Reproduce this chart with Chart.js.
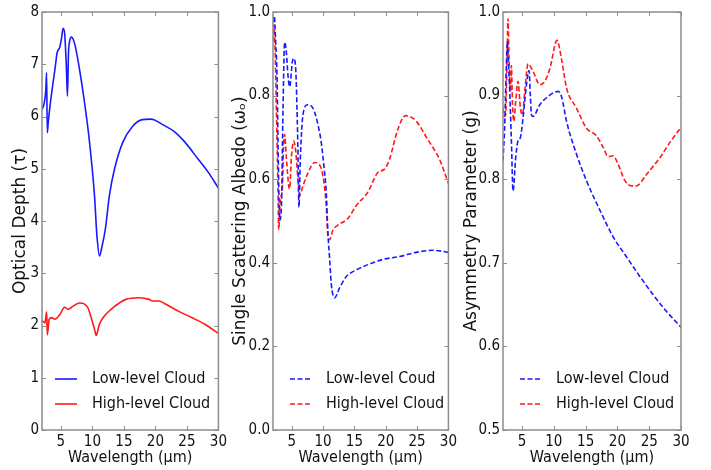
<!DOCTYPE html>
<html>
<head>
<meta charset="utf-8">
<script src="https://cdn.jsdelivr.net/npm/chart.js@4/dist/chart.umd.min.js"></script>
<style>
  html,body{margin:0;padding:0;background:#fff;}
  #wrap{position:relative;width:711px;height:470px;overflow:hidden;}
  .panel{position:absolute;top:0;}
</style>
</head>
<body>
<div id="wrap">
  <div class="panel" style="left:0px"><canvas id="c1" width="230" height="470"></canvas></div>
  <div class="panel" style="left:230px"><canvas id="c2" width="230" height="470"></canvas></div>
  <div class="panel" style="left:460px"><canvas id="c3" width="251" height="470"></canvas></div>
</div>
<script>
// ---------- DATA ----------
const xTicks = [5, 10, 15, 20, 25, 30];
const yTicksTau = [0, 1, 2, 3, 4, 5, 6, 7, 8];
const yTicksAlbedo = [0.0, 0.2, 0.4, 0.6, 0.8, 1.0];
const yTicksAsym = [0.5, 0.6, 0.7, 0.8, 0.9, 1.0];

const seriesNames = ['Low-level Cloud', 'High-level Cloud'];
const seriesNamesAlbedo = ['Low-level Coud', 'High-level Cloud'];

// Panel 1: optical depth
const tauLowWl  = [2.0, 2.36, 2.6, 2.73, 2.84, 3.0, 3.26, 3.7, 4.04, 4.4, 4.83, 5.1, 5.35, 5.6, 5.85, 6.04, 6.2, 6.4, 6.67, 7.19, 7.97, 8.76, 9.55, 10.33, 10.7, 11.12, 11.5, 12.06, 12.7, 13.5, 14.8, 16.36, 17.93, 19.25, 19.77, 21.07, 22.9, 24.75, 26.8, 28.4, 30.0];
const tauLow    = [6.13, 6.26, 6.5, 6.84, 5.69, 5.9, 6.19, 6.6, 6.89, 7.22, 7.33, 7.5, 7.69, 7.58, 7.0, 6.39, 7.2, 7.45, 7.52, 7.39, 6.89, 6.26, 5.5, 4.49, 3.75, 3.33, 3.5, 3.85, 4.49, 4.99, 5.5, 5.81, 5.94, 5.95, 5.94, 5.85, 5.72, 5.5, 5.18, 4.93, 4.63];
const tauHighWl = [2.0, 2.47, 2.74, 2.84, 3.15, 3.52, 4.04, 4.83, 5.6, 6.14, 6.92, 7.97, 8.76, 9.28, 9.81, 10.33, 10.6, 11.1, 11.9, 12.96, 14.26, 15.3, 17.4, 19.0, 19.5, 20.55, 21.6, 23.7, 25.8, 27.9, 30.0];
const tauHigh   = [2.10, 2.05, 2.26, 1.82, 2.12, 2.15, 2.12, 2.21, 2.35, 2.31, 2.37, 2.43, 2.41, 2.34, 2.15, 1.93, 1.81, 2.02, 2.18, 2.31, 2.43, 2.5, 2.53, 2.5, 2.47, 2.47, 2.41, 2.27, 2.15, 2.02, 1.85];

// Panel 2: single scattering albedo
const ssaLowWl  = [2.0, 2.2, 2.45, 2.64, 2.8, 2.96, 3.07, 3.34, 3.6, 3.86, 4.13, 4.39, 4.66, 5.09, 5.3, 5.62, 5.83, 6.0, 6.14, 6.37, 6.78, 7.5, 8.37, 9.17, 9.71, 10.2, 10.5, 10.77, 11.04, 11.3, 11.83, 12.63, 13.7, 15.3, 17.4, 19.53, 22.2, 24.85, 27.5, 30.0];
const ssaLow    = [0.975, 0.99, 0.92, 0.849, 0.69, 0.55, 0.502, 0.533, 0.77, 0.928, 0.904, 0.849, 0.821, 0.881, 0.889, 0.865, 0.77, 0.652, 0.533, 0.652, 0.754, 0.778, 0.77, 0.731, 0.687, 0.62, 0.569, 0.47, 0.41, 0.35, 0.316, 0.34, 0.367, 0.383, 0.397, 0.408, 0.415, 0.425, 0.43, 0.425];
const ssaHighWl = [2.0, 2.15, 2.3, 2.54, 2.8, 2.91, 3.18, 3.5, 3.71, 3.86, 4.13, 4.55, 4.66, 4.93, 5.3, 5.62, 6.0, 6.25, 6.8, 7.58, 8.65, 9.33, 9.97, 10.5, 10.8, 11.04, 11.56, 12.36, 13.95, 15.3, 17.14, 18.73, 19.8, 20.6, 21.92, 23.15, 24.85, 26.7, 28.57, 30.0];
const ssaHigh   = [0.93, 0.97, 0.93, 0.77, 0.573, 0.479, 0.55, 0.58, 0.69, 0.707, 0.652, 0.58, 0.577, 0.652, 0.691, 0.668, 0.596, 0.561, 0.585, 0.615, 0.64, 0.636, 0.608, 0.537, 0.46, 0.455, 0.478, 0.49, 0.506, 0.537, 0.569, 0.616, 0.624, 0.648, 0.719, 0.752, 0.739, 0.695, 0.648, 0.59];

// Panel 3: asymmetry parameter
const gLowWl  = [2.0, 2.27, 2.5, 2.7, 2.85, 3.06, 3.32, 3.58, 4.0, 4.36, 4.74, 5.15, 5.69, 6.1, 6.3, 6.48, 6.73, 7.78, 9.09, 10.67, 11.2, 12.0, 13.56, 15.14, 17.24, 19.33, 21.44, 23.5, 25.6, 27.7, 30.0];
const gLow    = [0.822, 0.865, 0.93, 0.965, 0.94, 0.905, 0.846, 0.786, 0.826, 0.846, 0.85, 0.873, 0.913, 0.93, 0.9, 0.877, 0.875, 0.889, 0.899, 0.905, 0.899, 0.869, 0.83, 0.798, 0.763, 0.731, 0.707, 0.684, 0.662, 0.642, 0.623];
const gHighWl = [2.0, 2.2, 2.42, 2.6, 2.79, 2.95, 3.17, 3.32, 3.48, 3.69, 4.0, 4.36, 4.74, 5.05, 5.42, 5.94, 6.73, 7.78, 8.57, 9.36, 10.5, 11.2, 12.0, 13.56, 15.14, 16.7, 17.76, 18.55, 19.33, 20.1, 21.2, 22.2, 23.0, 24.6, 26.7, 28.26, 30.0];
const gHigh   = [0.885, 0.875, 0.877, 0.93, 0.992, 0.944, 0.905, 0.936, 0.893, 0.869, 0.893, 0.917, 0.885, 0.877, 0.905, 0.938, 0.929, 0.913, 0.917, 0.932, 0.966, 0.944, 0.909, 0.885, 0.861, 0.852, 0.838, 0.827, 0.828, 0.818, 0.798, 0.792, 0.792, 0.806, 0.826, 0.844, 0.862];

// ---------- STYLE ----------
const BLUE = 'rgb(25,25,255)';
const RED = 'rgb(255,25,25)';
const DASH = [5, 2.5];
const COND = "'DejaVu Sans Condensed', 'DejaVu Sans', sans-serif";
const NORM = "'DejaVu Sans', sans-serif";

const pts = (xs, ys) => xs.map((x, i) => ({x: x, y: ys[i]}));

const frameTicks = {
  id: 'frameTicks',
  afterDraw(chart) {
    const {ctx, chartArea: a, scales: {x, y}} = chart;
    ctx.save();
    ctx.strokeStyle = '#8c8c8c';
    ctx.lineWidth = 1;
    const L = 4;
    ctx.beginPath();
    x.ticks.forEach(t => {
      const p = Math.round(x.getPixelForValue(t.value)) + 0.5;
      ctx.moveTo(p, a.bottom); ctx.lineTo(p, a.bottom - L);
      ctx.moveTo(p, a.top); ctx.lineTo(p, a.top + L);
    });
    y.ticks.forEach(t => {
      const p = Math.round(y.getPixelForValue(t.value)) + 0.5;
      ctx.moveTo(a.left, p); ctx.lineTo(a.left + L, p);
      ctx.moveTo(a.right, p); ctx.lineTo(a.right - L, p);
    });
    ctx.stroke();
    ctx.lineWidth = 1.5;
    ctx.strokeRect(a.left, a.top, a.right - a.left, a.bottom - a.top);
    ctx.restore();
  }
};

const innerLegend = {
  id: 'innerLegend',
  afterDraw(chart, args, opts) {
    const {ctx, chartArea: a} = chart;
    ctx.save();
    ctx.font = '16px ' + COND;
    ctx.textBaseline = 'middle';
    ctx.fillStyle = '#111';
    chart.data.datasets.forEach((ds, i) => {
      const yy = opts.y + i * opts.gap;
      ctx.strokeStyle = ds.borderColor;
      ctx.lineWidth = ds.borderWidth;
      ctx.setLineDash(ds.borderDash || []);
      ctx.beginPath();
      ctx.moveTo(a.left + opts.lineX, yy);
      ctx.lineTo(a.left + opts.lineX + opts.lineLen, yy);
      ctx.stroke();
      ctx.setLineDash([]);
      ctx.fillText(ds.label, a.left + opts.textX, yy);
    });
    ctx.restore();
  }
};

function makeChart(id, cfg) {
  const ds = cfg.series.map((s, i) => ({
    label: s.name,
    data: pts(s.x, s.y),
    borderColor: i === 0 ? BLUE : RED,
    backgroundColor: i === 0 ? BLUE : RED,
    borderWidth: 1.6,
    borderDash: cfg.dashed ? DASH : [],
    pointRadius: 0,
    fill: false,
    cubicInterpolationMode: 'monotone'
  }));
  return new Chart(document.getElementById(id), {
    type: 'line',
    data: {datasets: ds},
    options: {
      responsive: false,
      animation: false,
      devicePixelRatio: 1,
      layout: {padding: {top: 8, right: cfg.padRight, left: 0, bottom: 0}},
      plugins: {
        legend: {display: false},
        tooltip: {enabled: false},
        innerLegend: {y: 379, gap: 25, lineX: cfg.legLineX, lineLen: 22, textX: cfg.legTextX}
      },
      scales: {
        x: {
          type: 'linear', min: 2, max: 30,
          afterBuildTicks: s => { s.ticks = xTicks.map(v => ({value: v})); },
          afterFit: s => { s.height = 40; },
          grid: {display: false, drawTicks: false},
          border: {display: false},
          ticks: {padding: 3, color: '#111', font: {family: COND, size: 15}, callback: v => String(v)},
          title: {display: true, text: 'Wavelength (μm)', color: '#111', font: {family: COND, size: 16}, padding: {top: 0, bottom: 3}}
        },
        y: {
          type: 'linear', min: cfg.yMin, max: cfg.yMax,
          afterBuildTicks: s => { s.ticks = cfg.yTicks.map(v => ({value: v})); },
          afterFit: s => { s.width = cfg.yWidth; },
          grid: {display: false, drawTicks: false},
          border: {display: false},
          ticks: {padding: 3, color: '#111', font: {family: COND, size: 15}, callback: v => Number(v).toFixed(cfg.dec)},
          title: {display: true, text: cfg.yTitle, color: '#111', font: {family: NORM, size: 17}, padding: {top: cfg.yTitlePad, bottom: 0}}
        }
      }
    },
    plugins: [frameTicks, innerLegend]
  });
}

makeChart('c1', {
  series: [{name: seriesNames[0], x: tauLowWl, y: tauLow}, {name: seriesNames[1], x: tauHighWl, y: tauHigh}],
  dashed: false, yMin: 0, yMax: 8, yTicks: yTicksTau, dec: 0,
  yTitle: 'Optical Depth (τ)', yTitlePad: 10, yWidth: 42, padRight: 10,
  legLineX: 13, legTextX: 50
});
makeChart('c2', {
  series: [{name: seriesNamesAlbedo[0], x: ssaLowWl, y: ssaLow}, {name: seriesNamesAlbedo[1], x: ssaHighWl, y: ssaHigh}],
  dashed: true, yMin: 0, yMax: 1, yTicks: yTicksAlbedo, dec: 1,
  yTitle: 'Single Scattering Albedo (ωₒ)', yTitlePad: 0, yWidth: 43, padRight: 11,
  legLineX: 17, legTextX: 53
});
makeChart('c3', {
  series: [{name: seriesNames[0], x: gLowWl, y: gLow}, {name: seriesNames[1], x: gHighWl, y: gHigh}],
  dashed: true, yMin: 0.5, yMax: 1.0, yTicks: yTicksAsym, dec: 1,
  yTitle: 'Asymmetry Parameter (g)', yTitlePad: 1, yWidth: 43, padRight: 30,
  legLineX: 17, legTextX: 53
});
</script>
</body>
</html>
